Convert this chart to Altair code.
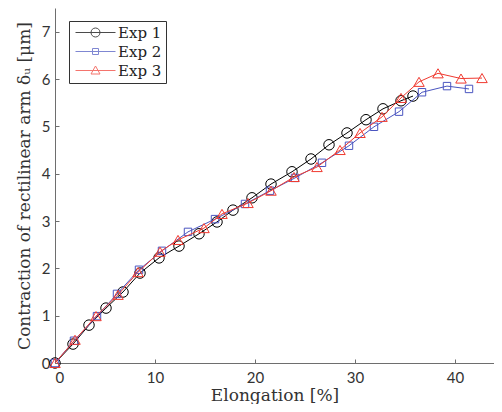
import altair as alt
import pandas as pd

exp_names = ["Exp 1", "Exp 2", "Exp 3"]
exp_colors = ["#000000", "#4a55c0", "#f03a30"]
exp_shapes = ["circle", "square", "triangle-up"]

x1 = [0, 1.8, 3.4, 5.1, 6.8, 8.5, 10.4, 12.4, 14.4, 16.2, 17.8, 19.7, 21.6, 23.7, 25.6, 27.4, 29.2, 31.1, 32.8, 34.6, 35.8]
y1 = [0, 0.40, 0.80, 1.16, 1.50, 1.90, 2.22, 2.47, 2.73, 2.98, 3.23, 3.49, 3.78, 4.04, 4.31, 4.61, 4.86, 5.14, 5.37, 5.54, 5.64]
x2 = [0, 1.9, 4.2, 6.2, 8.4, 10.7, 13.3, 16.0, 19.0, 21.5, 24.0, 26.7, 29.4, 31.9, 34.4, 36.7, 39.2, 41.4]
y2 = [0, 0.47, 0.99, 1.46, 1.97, 2.37, 2.77, 3.04, 3.36, 3.64, 3.91, 4.23, 4.59, 4.99, 5.31, 5.72, 5.85, 5.79]
x3 = [0, 2.0, 4.1, 6.3, 8.3, 10.5, 12.3, 14.9, 16.7, 19.3, 21.6, 23.9, 26.2, 28.5, 30.5, 32.7, 34.6, 36.4, 38.3, 40.6, 42.7]
y3 = [0, 0.49, 0.99, 1.44, 1.92, 2.35, 2.60, 2.85, 3.15, 3.38, 3.64, 3.93, 4.14, 4.50, 4.86, 5.20, 5.60, 5.94, 6.12, 6.01, 6.02]

x_ticks = [0, 10, 20, 30, 40]
y_ticks = [0, 1, 2, 3, 4, 5, 6, 7]

frames = []
for name, xs, ys in zip(exp_names, [x1, x2, x3], [y1, y2, y3]):
    frames.append(pd.DataFrame({"exp": name, "elong": xs, "contr": ys}))
df = pd.concat(frames, ignore_index=True)

X_DOMAIN = [0, 43.9]
Y_DOMAIN = [0, 7.5]
TICK_FONT = "Lato"
TITLE_FONT = "DejaVu Serif"

main_x_axis = alt.Axis(
    values=x_ticks, title="Elongation [%]", grid=False, ticks=False, tickSize=0,
    domainColor="#6e6e6e", domainWidth=1, labelFont=TICK_FONT, labelFontSize=15,
    labelColor="#333333", labelPadding=7, titleFont=TITLE_FONT, titleFontSize=17,
    titleFontWeight="normal", titleColor="#333333", titleY=37, titleBaseline="alphabetic",
)
main_y_axis = alt.Axis(
    values=y_ticks, title="Contraction of rectilinear arm δᵤ [μm]", grid=False, ticks=False,
    tickSize=0, domainColor="#6e6e6e", domainWidth=1, labelFont=TICK_FONT, labelFontSize=15,
    labelColor="#333333", labelPadding=5, titleFont=TITLE_FONT, titleFontSize=17,
    titleFontWeight="normal", titleColor="#333333", titleX=-31, titleBaseline="middle",
)
tick_x_axis = alt.Axis(values=x_ticks, title=None, labels=False, domain=False, grid=False,
                       orient="bottom", ticks=True, tickSize=4, tickColor="#6e6e6e", offset=-4)
tick_y_axis = alt.Axis(values=y_ticks, title=None, labels=False, domain=False, grid=False,
                       orient="left", ticks=True, tickSize=4, tickColor="#6e6e6e", offset=-4)

xs_scale = alt.Scale(domain=X_DOMAIN, nice=False, zero=False)
ys_scale = alt.Scale(domain=Y_DOMAIN, nice=False, zero=False)

layers = []
for i, (name, col, shp) in enumerate(zip(exp_names, exp_colors, exp_shapes)):
    base = alt.Chart(df).transform_filter(alt.datum.exp == name)
    line = base.mark_line(color=col, strokeWidth=1).encode(
        x=alt.X("elong:Q", scale=xs_scale, axis=main_x_axis if i == 0 else None),
        y=alt.Y("contr:Q", scale=ys_scale, axis=main_y_axis if i == 0 else None),
    )
    size = {"circle": 110, "square": 55, "triangle-up": 110}[shp]
    pts = base.mark_point(shape=shp, color=col, filled=False, size=size, strokeWidth=1, opacity=1).encode(
        x=alt.X("elong:Q", scale=xs_scale, axis=None),
        y=alt.Y("contr:Q", scale=ys_scale, axis=None),
    )
    layers += [line, pts]

legend_paths = [
    "M-4,0L4,0M0.9,0A0.9,0.9 0 1,1 -0.9,0A0.9,0.9 0 1,1 0.9,0",
    "M-4,0L4,0M-0.6,-0.6L0.6,-0.6L0.6,0.6L-0.6,0.6Z",
    "M-4,0L4,0M0,-0.9L0.9,0.7L-0.9,0.7Z",
]

legend_layer = alt.Chart(df).transform_filter("false").mark_point(filled=False, strokeWidth=1).encode(
    x=alt.X("elong:Q", scale=xs_scale, axis=tick_x_axis),
    y=alt.Y("contr:Q", scale=ys_scale, axis=tick_y_axis),
    color=alt.Color("exp:N", scale=alt.Scale(domain=exp_names, range=exp_colors),
                    legend=alt.Legend(title=None)),
    shape=alt.Shape("exp:N", scale=alt.Scale(domain=exp_names, range=legend_paths),
                    legend=alt.Legend(title=None)),
)
layers.append(legend_layer)

chart = alt.layer(*layers).resolve_axis(x="independent", y="independent").properties(
    width=439, height=355,
    autosize=alt.AutoSizeParams(type="none"),
    padding={"left": 47, "top": 0, "right": 0, "bottom": 41},
).configure_view(stroke=None).configure_legend(
    orient="none", legendX=14, legendY=13, padding=4, strokeColor="#333333",
    fillColor="#ffffff", cornerRadius=0, symbolSize=100, symbolOffset=15,
    labelOffset=15, labelFont=TITLE_FONT, labelFontSize=15, labelColor="#222222",
    rowPadding=3, symbolStrokeWidth=1,
)

chart.save("out.html", embed_options={"renderer": "svg", "actions": False})
